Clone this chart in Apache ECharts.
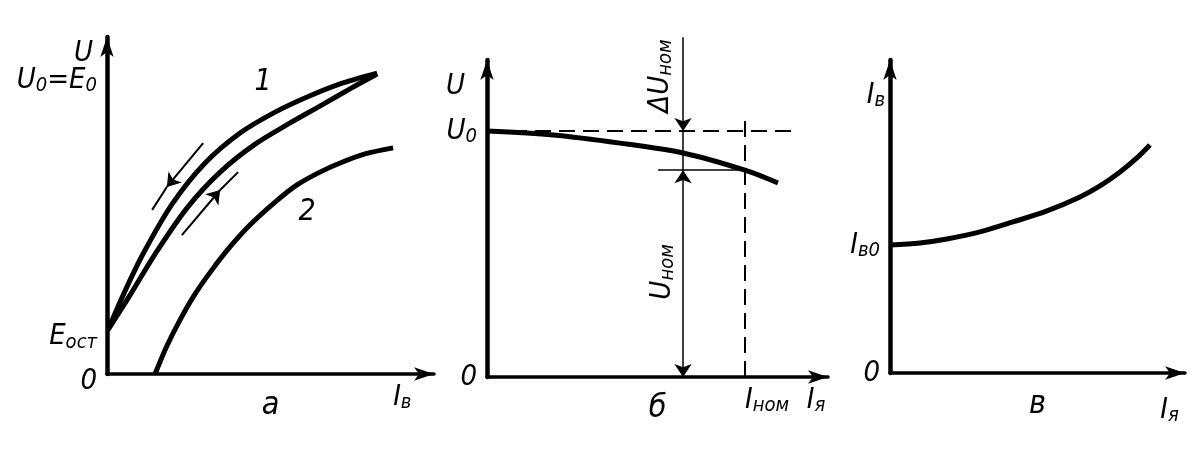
<!DOCTYPE html>
<html><head><meta charset="utf-8">
<script src="https://cdn.jsdelivr.net/npm/echarts@6/dist/echarts.min.js"></script>
<style>html,body{margin:0;padding:0;background:#fff}#c{width:1197px;height:464px}</style>
</head><body><div id="c"></div>
<script>
// ---- Panel а: no-load characteristic U(Iв) ----
const aCurve1DownX = [0.03, 0.55, 1.10, 1.99, 3.00, 4.07, 5.14, 6.12, 7.13, 8.26];
const aCurve1DownY = [1.31, 2.46, 3.56, 5.04, 6.26, 7.15, 7.77, 8.22, 8.61, 8.93];
const aCurve1UpX   = [0.03, 0.40, 0.76, 1.47, 2.45, 3.46, 4.53, 5.60, 6.51, 7.43, 8.26];
const aCurve1UpY   = [1.31, 1.87, 2.43, 3.56, 4.93, 5.99, 6.82, 7.45, 7.95, 8.46, 8.90];
const aCurve2X     = [1.47, 1.83, 2.23, 2.69, 3.21, 3.76, 4.37, 5.14, 5.81, 6.51, 7.13, 7.89, 8.75];
const aCurve2Y     = [0.00, 0.83, 1.60, 2.37, 3.09, 3.77, 4.42, 5.10, 5.61, 5.99, 6.26, 6.53, 6.71];
const aArrowDownX  = [2.94, 1.83, 1.38];
const aArrowDownY  = [6.85, 5.55, 4.87];
const aArrowUpX    = [2.29, 3.46, 4.01];
const aArrowUpY    = [4.12, 5.46, 5.99];
const aEost = 1.31, aE0 = 8.93, aIvLabel = 8.75;

// ---- Panel б: external characteristic U(Iя) ----
const bCurveX = [0.000, 0.256, 0.516, 0.760, 1.000, 1.128];
const bCurveY = [1.000, 0.984, 0.951, 0.911, 0.841, 0.789];
const bU0 = 1.0, bInom = 1.0, bUnom = 0.841, bDeltaX = 0.760;
const bU0DashEnd = 1.182, bInomDashTop = 1.065, bDeltaTop = 1.382, bTickStart = 0.663, bIyaLabel = 1.24;

// ---- Panel в: regulation characteristic Iв(Iя) ----
const cCurveX = [0.0, 0.115, 0.219, 0.346, 0.473, 0.604, 0.731, 0.808, 0.885, 0.950, 1.0];
const cCurveY = [1.0, 1.016, 1.047, 1.102, 1.180, 1.266, 1.375, 1.461, 1.570, 1.680, 1.781];
const cIv0 = 1.0, cIyaLabel = 1.04;

const zip = (xs, ys) => xs.map((x, i) => [x, ys[i]]);
const FF = '"Liberation Sans Narrow","DejaVu Sans Condensed","Liberation Sans",sans-serif';
const rich = {
  m: {fontSize: 29, fontFamily: FF, fontStyle: 'italic', color: '#000'},
  s: {fontSize: 20, fontFamily: FF, fontStyle: 'italic', color: '#000', padding: [11, 0, 0, 0]}
};
const axisLine = (w) => ({show: true, symbol: ['none', 'arrow'], symbolSize: [10, 20], symbolOffset: [0, 0],
  lineStyle: {color: '#000', width: w}});
function xAx(grid, max, name, custom, fmt, margin) {
  return {type: 'value', gridIndex: grid, min: 0, max: max, splitLine: {show: false}, axisTick: {show: false},
    axisLine: axisLine(3.5),
    name: name, nameLocation: 'middle', nameGap: 16, nameMoveOverlap: false,
    nameTextStyle: {fontSize: 32, fontFamily: FF, fontStyle: 'italic', color: '#000', verticalAlign: 'top'},
    axisLabel: {customValues: custom, formatter: fmt, align: 'left', margin: margin, rich: rich}};
}
function yAx(grid, max, nameRich, gap, pad, custom, fmt, labelPad) {
  return {type: 'value', gridIndex: grid, min: 0, max: max, splitLine: {show: false}, axisTick: {show: false},
    axisLine: axisLine(4.5),
    name: nameRich, nameLocation: 'end', nameGap: gap, nameMoveOverlap: false,
    nameTextStyle: {align: 'right', verticalAlign: 'top', padding: [0, pad, 0, 0], rich: rich},
    axisLabel: {customValues: custom, formatter: fmt, margin: 10, padding: labelPad, rich: rich}};
}
const curve = (xi, data) => ({type: 'line', xAxisIndex: xi, yAxisIndex: xi, data: data, smooth: 0.3,
  showSymbol: false, silent: true, clip: false, lineStyle: {color: '#000', width: 5}});
const seg = (xi, coords, sym, w, dash) => ({type: 'lines', coordinateSystem: 'cartesian2d', xAxisIndex: xi, yAxisIndex: xi,
  clip: false, silent: true, symbol: sym, symbolSize: 13,
  lineStyle: {color: '#000', width: w, type: dash || 'solid', opacity: 1, dashOffset: 0},
  data: [{coords: coords}]});

const adx = zip(aArrowDownX, aArrowDownY), aux = zip(aArrowUpX, aArrowUpY);
const option = {
  backgroundColor: '#fff',
  animation: false,
  grid: [
    {left: 107, top: 37, width: 327, height: 337},
    {left: 487, top: 60, width: 341, height: 317},
    {left: 890, top: 60, width: 295, height: 313}
  ],
  xAxis: [
    xAx(0, 10, 'а', [aIvLabel], () => '{m|I}{s|в}', 8),
    xAx(1, 1.322, 'б', [bInom, bIyaLabel], v => v === bInom ? '{m|I}{s|ном}' : '{m|I}{s|я}', 8),
    xAx(2, 1.135, 'в', [cIyaLabel], () => '{m|I}{s|я}', 22)
  ],
  yAxis: [
    yAx(0, 10, '{m|U}', -2, 14, [0, aEost, aE0],
        v => v === 0 ? '{m|0}' : (v === aEost ? '{m|E}{s|ост}' : '{m|U}{s|0}{m|=E}{s|0}'), [14, 0, 0, 0]),
    yAx(1, 1.289, '{m|U}', -12, 22, [0, bU0], v => v === 0 ? '{m|0}' : '{m|U}{s|0}', 0),
    yAx(2, 2.445, '{m|I}{s|в}', -20, 5, [0, cIv0], v => v === 0 ? '{m|0}' : '{m|I}{s|в0}', 0)
  ],
  series: [
    curve(0, zip(aCurve1DownX, aCurve1DownY)),
    curve(0, zip(aCurve1UpX, aCurve1UpY)),
    curve(0, zip(aCurve2X, aCurve2Y)),
    seg(0, [adx[0], adx[1]], ['none', 'arrow'], 2),
    seg(0, [adx[1], adx[2]], ['none', 'none'], 2),
    seg(0, [aux[0], aux[1]], ['none', 'arrow'], 2),
    seg(0, [aux[1], aux[2]], ['none', 'none'], 2),
    curve(1, zip(bCurveX, bCurveY)),
    seg(1, [[0, bU0], [bU0DashEnd, bU0]], ['none', 'none'], 2, [16, 8]),
    seg(1, [[bInom, 0], [bInom, bInomDashTop]], ['none', 'none'], 2, [16, 8]),
    seg(1, [[bTickStart, bUnom], [bInom, bUnom]], ['none', 'none'], 1.5),
    seg(1, [[bDeltaX, bDeltaTop], [bDeltaX, bU0]], ['none', 'arrow'], 1.5),
    seg(1, [[bDeltaX, bU0], [bDeltaX, bUnom]], ['none', 'none'], 1.5),
    seg(1, [[bDeltaX, 0], [bDeltaX, bUnom]], ['arrow', 'arrow'], 1.5),
    curve(2, zip(cCurveX, cCurveY))
  ],
  graphic: [
    {type: 'text', x: 263, y: 82, style: {text: '1', font: 'italic 30px ' + FF, fill: '#000', align: 'center', verticalAlign: 'middle'}},
    {type: 'text', x: 307, y: 212, style: {text: '2', font: 'italic 30px ' + FF, fill: '#000', align: 'center', verticalAlign: 'middle'}},
    {type: 'text', x: 660, y: 76, rotation: Math.PI / 2,
      style: {text: '{m|ΔU}{s|ном}', rich: rich, align: 'center', verticalAlign: 'middle'}},
    {type: 'text', x: 662, y: 272, rotation: Math.PI / 2,
      style: {text: '{m|U}{s|ном}', rich: rich, align: 'center', verticalAlign: 'middle'}}
  ]
};
const chart = echarts.init(document.getElementById('c'), null, {renderer: 'canvas'});
chart.setOption(option);
</script>
</body></html>
